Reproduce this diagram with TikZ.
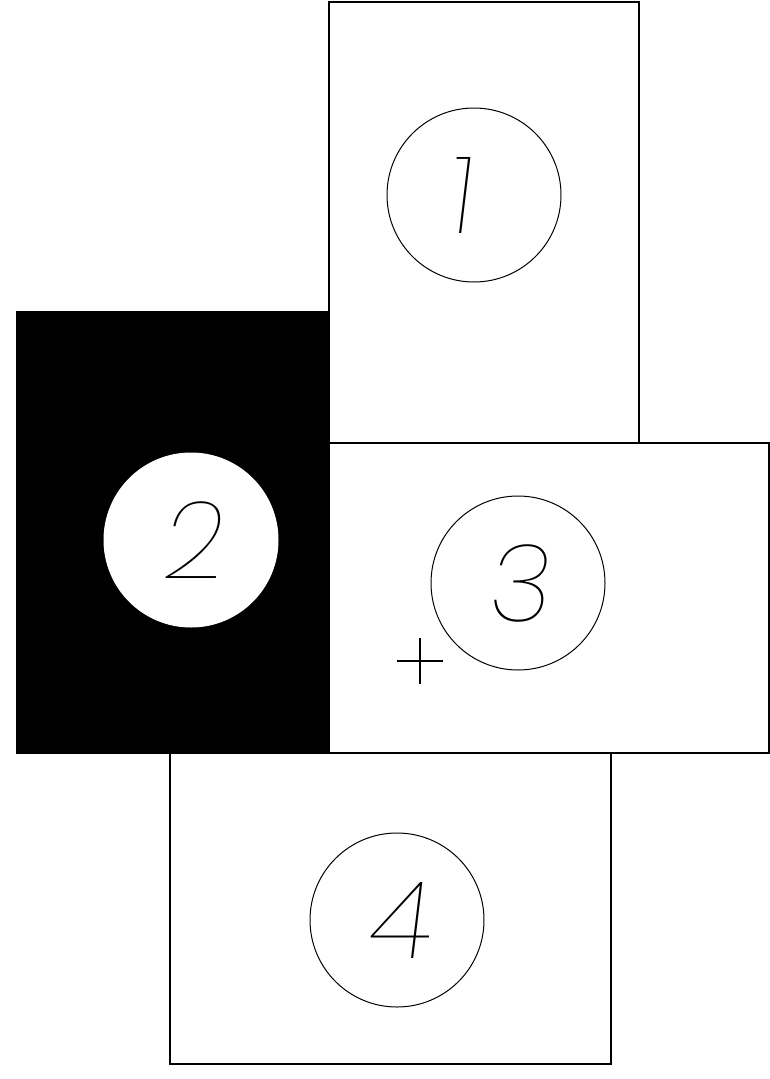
\documentclass[tikz,border=0pt]{standalone}
\usepackage{fontspec}
\newfontfamily\digitfont[FakeSlant=0.12]{Poppins Thin}
\usetikzlibrary{positioning}

\begin{document}
\begin{tikzpicture}[
    x=1pt,y=-1pt,
    sheet/.style={rectangle,draw,line width=1.3pt,inner sep=0pt},
    disc/.style={circle,draw,line width=1pt,minimum size=174pt,inner sep=0pt,font=\digitfont\fontsize{108}{108}\selectfont}
]
    \useasboundingbox (0,0) rectangle (770,1079);

    % four sheets
    \node[sheet,fill=black,minimum width=312pt,minimum height=441pt] (sheetB) at (173,532.5) {};
    \node[sheet,fill=white,minimum width=310pt,minimum height=441pt] (sheetA) at (484,222.5) {};
    \node[sheet,fill=white,minimum width=440pt,minimum height=310pt] (sheetC) at (549,598) {};
    \node[sheet,fill=white,minimum width=441pt,minimum height=311pt] (sheetD) at (390.5,908.5) {};

    % numbered discs
    \node[disc] (discA) at (474,195) {\raisebox{-9pt}{\kern-30pt 1}};
    \node[disc,fill=white,draw=white] (discB) at (191,540) {2};
    \node[disc] (discC) at (518,583) {3};
    \node[disc] (discD) at (397,920) {4};

    % cross mark
    \coordinate (mark) at (420,661);
    \draw[line width=1.2pt] ([xshift=-23pt]mark) -- ([xshift=23pt]mark);
    \draw[line width=1.2pt] ([yshift=-23pt]mark) -- ([yshift=23pt]mark);
\end{tikzpicture}
\end{document}
